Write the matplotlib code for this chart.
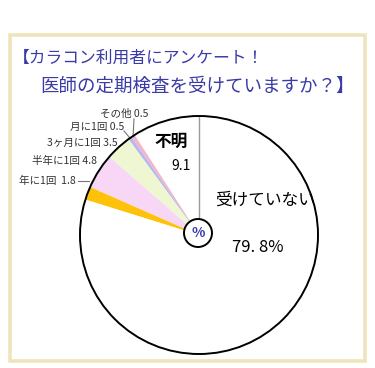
import matplotlib
matplotlib.use("Agg")
import matplotlib.pyplot as plt
from matplotlib.patches import Rectangle, Circle
import numpy as np

plt.rcParams['font.family'] = ['Noto Sans CJK JP', 'DejaVu Sans']

# Data (counter-clockwise from 12 o'clock)
categories = ['不明', 'その他', '月に1回', '3ヶ月に1回', '半年に1回', '年に1回', '受けていない']
values = [9.1, 0.5, 0.5, 3.5, 4.8, 1.8, 79.8]
colors = ['#FFFFFF', '#F4B6C6', '#B8B8EE', '#EEF7D2', '#F8D6F6', '#FFC20A', '#FFFFFF']
title_lines = ['【カラコン利用者にアンケート！', '医師の定期検査を受けていますか？】']

W, H = 375, 368
fig = plt.figure(figsize=(W / 100, H / 100), dpi=100)
ax = fig.add_axes([0, 0, 1, 1])

def Y(py):
    return H - py

cx, cy, r = 199, Y(235), 119

wedges, _ = ax.pie(values, colors=colors, startangle=90, counterclock=True,
                   center=(cx, cy), radius=r,
                   wedgeprops=dict(linewidth=0, edgecolor='none'))
ax.set_xlim(0, W)
ax.set_ylim(0, H)
ax.set_aspect('auto')
ax.axis('off')

# outline circle
ax.add_patch(Circle((cx, cy), r, fill=False, edgecolor='black', linewidth=1.4, zorder=5))
# gray separator between 不明 and 受けていない
ax.plot([cx, cx], [cy, cy + r], color='#999999', linewidth=1.0, zorder=4)

# border box
ax.add_patch(Rectangle((9.5, Y(360.5)), 355, 326, fill=False, edgecolor='#EEE4BC',
                       linewidth=2.6, zorder=1))

# title
tcol = '#3A3AA8'
ax.text(13, Y(58), title_lines[0], fontsize=12.1, color=tcol, va='center', ha='left')
ax.text(40, Y(87), title_lines[1], fontsize=13.3, color=tcol, va='center', ha='left')

# small labels with leaders
lab_col = '#333333'
fs = 7.6
def edge_pt(idx):
    start = 90 + 3.6 * sum(values[:idx])
    mid = start + 3.6 * values[idx] / 2
    a = np.deg2rad(mid)
    return cx + r * np.cos(a), cy + r * np.sin(a)

# その他
ax.text(148, Y(114), f'{categories[1]} {values[1]}', fontsize=fs, color=lab_col, ha='right', va='center')
ex, ey = edge_pt(1)
ax.plot([134, ex], [Y(119), ey], color='#777777', linewidth=0.8)
# 月に1回
ax.text(124, Y(127), f'{categories[2]} {values[2]}', fontsize=fs, color=lab_col, ha='right', va='center')
ex, ey = edge_pt(2)
ax.plot([124, ex], [Y(131), ey], color='#777777', linewidth=0.8)
# 3ヶ月に1回
ax.text(118, Y(143), f'{categories[3]} {values[3]}', fontsize=fs, color=lab_col, ha='right', va='center')
# 半年に1回
ax.text(97, Y(161), f'{categories[4]} {values[4]}', fontsize=fs, color=lab_col, ha='right', va='center')
# 年に1回
ax.text(76, Y(181), f'{categories[5]}  {values[5]}', fontsize=fs, color=lab_col, ha='right', va='center')
ax.plot([78, 89], [Y(181), Y(181)], color='#777777', linewidth=0.8)

# big labels
ax.text(171, Y(142), categories[0], fontsize=12, color='black', ha='center', va='center', fontweight='bold')
ax.text(191, Y(166), f'{values[0]}', fontsize=10, color='black', ha='right', va='center')
ax.text(265, Y(200), categories[6], fontsize=12, color='black', ha='center', va='center')
ax.text(258, Y(247), f'{values[6]:.1f}%'.replace('.', '. '), fontsize=12, color='black', ha='center', va='center')

# % badge
ax.add_patch(Circle((198, Y(233)), 14, facecolor='white', edgecolor='black', linewidth=1.4, zorder=6))
ax.text(198, Y(233), '%', fontsize=10, color='#3A3AA8', ha='center', va='center', zorder=7, fontweight='bold')

fig.savefig('out.png', dpi=100, facecolor='white')
